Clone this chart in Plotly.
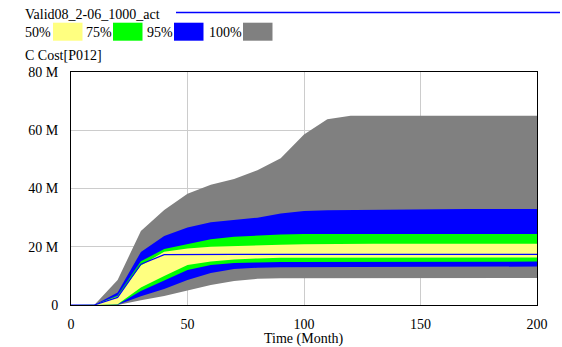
import plotly.graph_objects as go

# ---- data (values in millions) ----
time = [0, 10, 20, 30, 40, 50, 60, 70, 80, 90, 100, 110, 120, 130, 140, 150, 160, 170, 180, 190, 200]
gray_hi   = [0, 0, 8.6, 25.4, 32.6, 38.2, 41.3, 43.3, 46.3, 50.4, 58.5, 63.8, 65.0, 65.0, 65.0, 65.0, 65.0, 65.0, 65.0, 65.0, 65.0]
gray_lo   = [0, 0, 0.0, 1.6, 3.1, 5.0, 6.9, 8.2, 9.0, 9.2, 9.3, 9.3, 9.3, 9.3, 9.3, 9.3, 9.3, 9.3, 9.3, 9.3, 9.3]
blue_hi   = [0, 0, 4.3, 18.2, 23.7, 26.6, 28.4, 29.3, 30.0, 31.4, 32.3, 32.5, 32.6, 32.8, 32.9, 33.0, 33.0, 33.0, 33.0, 33.0, 33.0]
blue_lo   = [0, 0, 0.1, 3.0, 5.5, 8.6, 11.0, 12.4, 12.8, 13.0, 13.1, 13.2, 13.2, 13.2, 13.2, 13.2, 13.2, 13.2, 13.2, 13.2, 13.2]
green_hi  = [0, 0, 3.3, 15.0, 19.2, 20.9, 22.6, 23.4, 23.9, 24.2, 24.4, 24.4, 24.4, 24.4, 24.4, 24.4, 24.4, 24.4, 24.4, 24.4, 24.4]
green_lo  = [0, 0, 0.2, 4.8, 8.4, 12.0, 13.7, 14.4, 14.6, 14.8, 14.9, 14.9, 14.9, 14.9, 14.9, 14.9, 14.9, 14.9, 14.9, 14.9, 14.9]
yellow_hi = [0, 0, 2.9, 13.6, 18.3, 19.4, 20.0, 20.3, 20.5, 20.7, 20.9, 21.0, 21.0, 21.0, 21.0, 21.0, 21.0, 21.0, 21.0, 21.0, 21.0]
yellow_lo = [0, 0, 0.3, 6.0, 10.0, 13.7, 14.9, 15.6, 16.0, 16.2, 16.3, 16.3, 16.3, 16.3, 16.3, 16.3, 16.3, 16.3, 16.3, 16.3, 16.3]
base      = [0, 0, 2.6, 14.0, 17.3, 17.4, 17.4, 17.4, 17.4, 17.4, 17.4, 17.4, 17.4, 17.4, 17.4, 17.4, 17.4, 17.4, 17.4, 17.4, 17.4]

y_tick_vals = [0, 20, 40, 60, 80]
y_tick_text = ["0", "20 M", "40 M", "60 M", "80 M"]
x_tick_vals = [0, 50, 100, 150, 200]

run_name = "Valid08_2-06_1000_act"
var_name = "C Cost[P012]"
x_title = "Time (Month)"
band_labels = ["50%", "75%", "95%", "100%"]
band_colors = ["#FFFF80", "#00FF00", "#0000FF", "#808080"]

M = 1e6
FONT = "Liberation Serif"

W, H = 562, 347
L, R, T, B = 71, 25, 72, 42
PW, PH = W - L - R, H - T - B


def px(x):
    return (x - L) / PW


def py(y):
    return (H - B - y) / PH


fig = go.Figure()

bands = [
    (gray_lo, gray_hi, band_colors[3]),
    (blue_lo, blue_hi, band_colors[2]),
    (green_lo, green_hi, band_colors[1]),
    (yellow_lo, yellow_hi, band_colors[0]),
]
for lo, hi, col in bands:
    xs = time + time[::-1]
    ys = [v * M for v in hi] + [v * M for v in lo[::-1]]
    fig.add_trace(go.Scatter(x=xs, y=ys, fill="toself", fillcolor=col,
                             line=dict(width=0, color=col), mode="lines",
                             hoverinfo="skip", showlegend=False))

fig.add_trace(go.Scatter(x=time, y=[v * M for v in base], mode="lines",
                         line=dict(color="#0000FF", width=1.2), showlegend=False))

fig.update_layout(
    width=W, height=H,
    margin=dict(l=L, r=R, t=T, b=B, pad=0),
    paper_bgcolor="white", plot_bgcolor="white",
    font=dict(family=FONT, size=14, color="black"),
    showlegend=False,
)
fig.update_xaxes(range=[0, 200], tickvals=x_tick_vals, showgrid=True,
                 gridcolor="#cccccc", gridwidth=1, zeroline=False,
                 showline=True, linecolor="black", linewidth=1, mirror=True,
                 ticks="", ticklabelstandoff=6, layer="above traces",
                 tickfont=dict(family=FONT, size=14))
fig.update_yaxes(range=[0, 80 * M], tickvals=[v * M for v in y_tick_vals],
                 ticktext=y_tick_text, showgrid=True, gridcolor="#cccccc",
                 gridwidth=1, zeroline=False, showline=True, linecolor="black",
                 linewidth=1, mirror=True, ticks="", ticklabelstandoff=9,
                 layer="above traces", tickfont=dict(family=FONT, size=14))

ann = []
ann.append(dict(text=run_name, x=px(23), y=py(14), xref="paper", yref="paper",
                xanchor="left", yanchor="middle", showarrow=False))
ann.append(dict(text=var_name, x=px(23), y=py(56), xref="paper", yref="paper",
                xanchor="left", yanchor="middle", showarrow=False))
ann.append(dict(text=x_title, x=0.5, y=py(339), xref="paper", yref="paper",
                xanchor="center", yanchor="middle", showarrow=False))

text_x = [23, 84, 145, 207]
box_x = [53, 113, 174, 243]
shapes = [dict(type="line", xref="paper", yref="paper", x0=px(176), x1=px(560),
               y0=py(12.5), y1=py(12.5), line=dict(color="#0000FF", width=1.3))]
for lab, tx, bx, col in zip(band_labels, text_x, box_x, band_colors):
    ann.append(dict(text=lab, x=px(tx), y=py(32), xref="paper", yref="paper",
                    xanchor="left", yanchor="middle", showarrow=False))
    shapes.append(dict(type="rect", xref="paper", yref="paper",
                       x0=px(bx), x1=px(bx + 29.5), y0=py(40.7), y1=py(22.7),
                       fillcolor=col, line=dict(width=0)))

fig.update_layout(annotations=ann, shapes=shapes)
fig.write_html("out.html", config={"displayModeBar": False},
               post_script="document.body.style.margin='0';document.body.style.padding='0';")
